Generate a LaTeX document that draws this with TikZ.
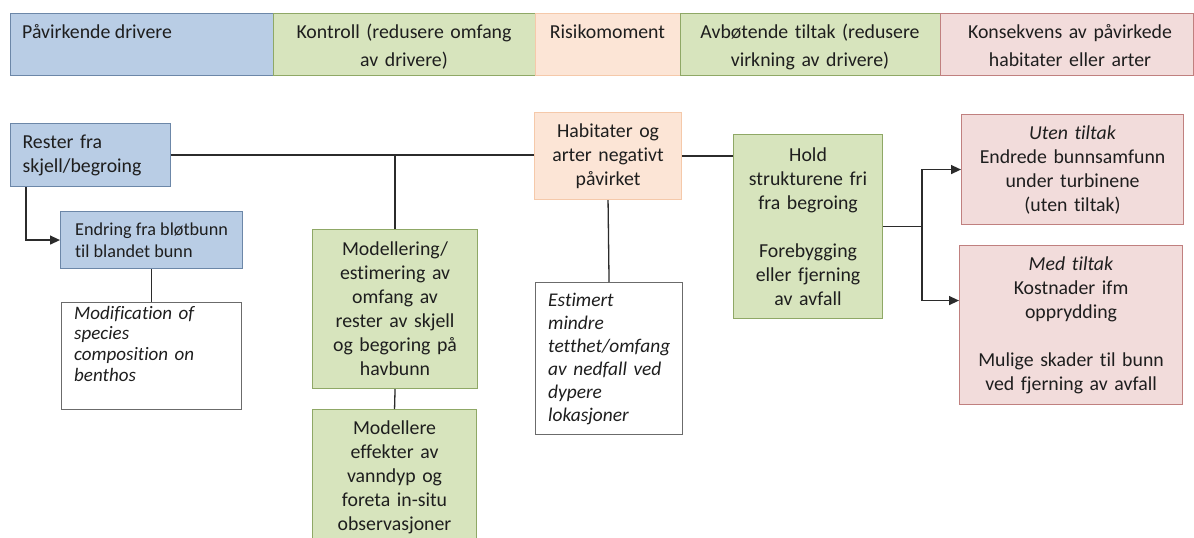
\documentclass[tikz,border=0pt]{standalone}
\usepackage{fontspec}
\setmainfont{Carlito}[Ligatures=NoCommon]
\usetikzlibrary{arrows.meta,calc}

\definecolor{blueF}{HTML}{B9CDE5}
\definecolor{blueD}{HTML}{6C87A8}
\definecolor{greenF}{HTML}{D7E4BD}
\definecolor{greenD}{HTML}{8FA866}
\definecolor{peachF}{HTML}{FCE5D6}
\definecolor{peachD}{HTML}{F5C9AA}
\definecolor{pinkF}{HTML}{F2DCDB}
\definecolor{pinkD}{HTML}{C0807F}
\definecolor{lineC}{HTML}{2B2B2B}
\definecolor{txt}{HTML}{1E1E1E}

\tikzset{
  mainfont/.style={font=\fontsize{19.8}{24}\selectfont},
  headfont/.style={font=\fontsize{19.8}{28}\selectfont},
  box/.style={draw, line width=1.1pt, inner sep=0pt, anchor=north west,
              text=txt, mainfont},
  bluebox/.style={box, fill=blueF, draw=blueD},
  greenbox/.style={box, fill=greenF, draw=greenD},
  peachbox/.style={box, fill=peachF, draw=peachD},
  pinkbox/.style={box, fill=pinkF, draw=pinkD},
  whitebox/.style={box, fill=white, draw=lineC!70},
  hcell/.style={draw, line width=1.1pt, inner sep=0pt, anchor=north west,
                minimum height=62pt},
  htext/.style={inner sep=0pt, text=txt, headfont},
  note/.style={inner sep=0pt, text=txt, align=left, anchor=base west},
  conn/.style={draw=lineC, line width=1.3pt},
  arr/.style={conn, -{Triangle[length=10pt,width=9pt]}},
}

\begin{document}
\begin{tikzpicture}[x=1pt,y=-1pt]
\useasboundingbox (0,0) rectangle (1194,538);
\fill[white] (0,0) rectangle (1194,538);

% header row
\node[hcell, fill=blueF,  draw=blueD,  minimum width=263pt] (h1) at (10,13) {};
\node[hcell, fill=greenF, draw=greenD, minimum width=262pt] (h2) at (273,13) {};
\node[hcell, fill=peachF, draw=peachD, minimum width=145pt] (h3) at (535,13) {};
\node[hcell, fill=greenF, draw=greenD, minimum width=260pt] (h4) at (680,13) {};
\node[hcell, fill=pinkF,  draw=pinkD,  minimum width=253pt] (h5) at (940,13) {};

\node[htext, anchor=base west] (t1) at (22,38) {Påvirkende drivere};
\node[htext, anchor=base, text width=250pt, align=center] (t2) at (404,38)
  {Kontroll (redusere omfang\\av drivere)};
\node[htext, anchor=base, text width=140pt, align=center] (t3) at (607.5,38)
  {Risikomoment};
\node[htext, anchor=base, text width=250pt, align=center] (t4) at (810,38)
  {Avbøtende tiltak (redusere\\virkning av drivere)};
\node[htext, anchor=base, text width=240pt, align=center] (t5) at (1070,38)
  {Konsekvens av påvirkede\\habitater eller arter};

% drivers
\node[bluebox, minimum width=160pt, minimum height=63pt,
      text width=136pt, align=left] (rester) at (10,123)
  {Rester fra\\skjell/begroing};
\node[bluebox, minimum width=182pt, minimum height=57pt,
      font=\fontsize{18.2}{22}\selectfont, align=left] (endr) at (60,211)
  {Endring fra bløtbunn\\til blandet bunn};
\node[whitebox, minimum width=180pt, minimum height=107pt] (mod) at (61,302) {};
\node[note, font=\itshape\fontsize{19}{20.7}\selectfont, text width=160pt]
  (modtxt) at (74,319)
  {Modification of\\species\\composition on\\benthos};

% control
\node[greenbox, minimum width=165pt, minimum height=159pt,
      text width=150pt, align=center] (modl) at (312,229)
  {Modellering/\\estimering av\\omfang av\\rester av skjell\\og begoring på\\havbunn};
\node[greenbox, minimum width=164pt, minimum height=136pt,
      text width=150pt, align=center] (modl2) at (312,409)
  {Modellere\\effekter av\\vanndyp og\\foreta in-situ\\observasjoner};

% risk
\node[peachbox, minimum width=147pt, minimum height=87pt,
      text width=135pt, align=center] (hab) at (534,112)
  {Habitater og\\arter negativt\\påvirket};
\node[whitebox, minimum width=147pt, minimum height=152pt] (est) at (535,282) {};
\node[note, font=\itshape\fontsize{19.4}{23}\selectfont, text width=128pt]
  (esttxt) at (548,306)
  {Estimert\\mindre\\tetthet/omfang\\av nedfall ved\\dypere\\lokasjoner};

% mitigation
\node[greenbox, minimum width=149pt, minimum height=184pt,
      text width=140pt, align=center] (hold) at (733,134)
  {Hold\\strukturene fri\\fra begroing\\[24pt]Forebygging\\eller fjerning\\av avfall};

% consequences
\node[pinkbox, minimum width=222pt, minimum height=110pt,
      text width=210pt, align=center] (uten) at (961,114)
  {\textit{Uten tiltak}\\Endrede bunnsamfunn\\under turbinene\\(uten tiltak)};
\node[pinkbox, minimum width=223pt, minimum height=159pt,
      text width=210pt, align=center] (med) at (959,245)
  {\textit{Med tiltak}\\Kostnader ifm\\opprydding\\[24pt]Mulige skader til bunn\\ved fjerning av avfall};

% connectors
\draw[conn] (rester.east) -- (rester.east -| hab.west);
\draw[conn] (hab.east) -- (hab.east -| hold.west);
\draw[conn] (modl.north) -- (modl.north |- rester.east);
\draw[conn] (modl.south) -- (modl2.north);
\draw[conn] (hab.south) -- (est.north);
\draw[conn] (endr.south) -- (mod.north);
\draw[arr] ([xshift=16pt]rester.south west) |- (endr.west);

\coordinate (split) at ([xshift=39pt]hold.east);
\draw[conn] (hold.east) -- (split);
\draw[arr] (split) |- (uten.west);
\draw[arr] (split) |- ([yshift=24.5pt]med.west);
\end{tikzpicture}
\end{document}
